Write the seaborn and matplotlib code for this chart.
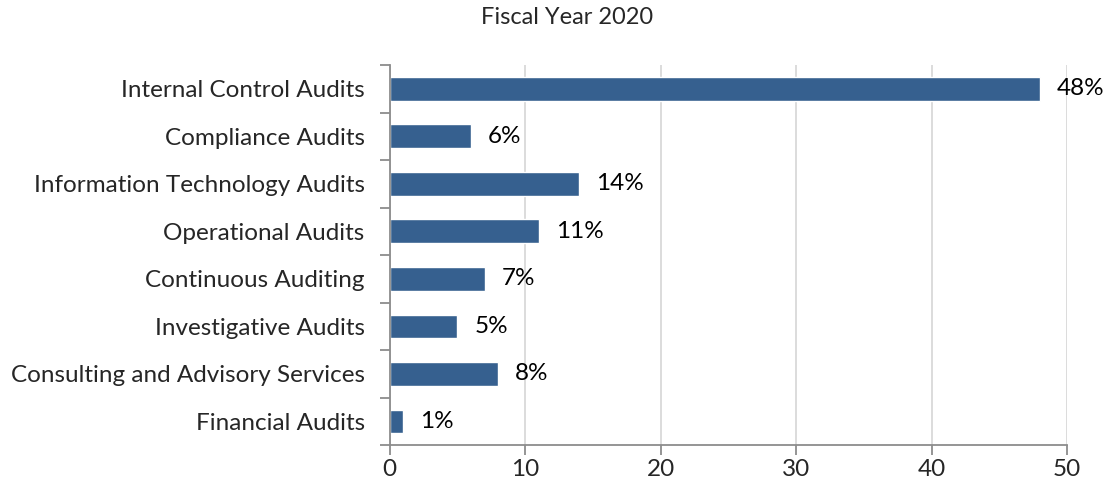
import numpy as np
import matplotlib
matplotlib.use('Agg')
import matplotlib.pyplot as plt
import seaborn as sns

categories = ['Internal Control Audits', 'Compliance Audits', 'Information Technology Audits',
              'Operational Audits', 'Continuous Auditing', 'Investigative Audits',
              'Consulting and Advisory Services', 'Financial Audits']
values = [48, 6, 14, 11, 7, 5, 8, 1]
labels = ['48%', '6%', '14%', '11%', '7%', '5%', '8%', '1%']

sns.set_style('white')
plt.rcParams['font.family'] = ['Lato', 'DejaVu Sans']

fig = plt.figure(figsize=(11.07, 4.93), dpi=100)
ax = fig.add_axes([0.352, 0.097, 0.612, 0.771])

sns.barplot(x=values, y=categories, orient='h', color='#36608f', saturation=1,
            width=0.5, ax=ax)

for i, (v, lab) in enumerate(zip(values, labels)):
    ax.text(v + 1.25, i, lab, va='center', ha='left', fontsize=17.5, color='black')

ax.set_xlim(0, 50)
ax.set_ylim(7.5, -0.5)
ax.set_xticks([0, 10, 20, 30, 40, 50])
ax.xaxis.grid(True, color='#d9d9d9', linewidth=1.3)
ax.set_axisbelow(True)
ax.set_yticks(np.arange(-0.5, 8), minor=True)
ax.tick_params(axis='y', which='major', length=0, labelsize=17.5, pad=18)
ax.tick_params(axis='y', which='minor', length=7, color='#8c8c8c', width=1.3, direction='out', left=True)
ax.tick_params(axis='x', length=7, color='#8c8c8c', width=1.3, direction='out', labelsize=17.5, pad=3, bottom=True)

for s in ['top', 'right']:
    ax.spines[s].set_visible(False)
for s in ['left', 'bottom']:
    ax.spines[s].set_color('#8c8c8c')
    ax.spines[s].set_linewidth(1.3)

ax.set_xlabel('')
ax.set_ylabel('')
fig.suptitle('Fiscal Year 2020', x=0.512, y=0.985, fontsize=17)

fig.savefig('out.png', dpi=100)
